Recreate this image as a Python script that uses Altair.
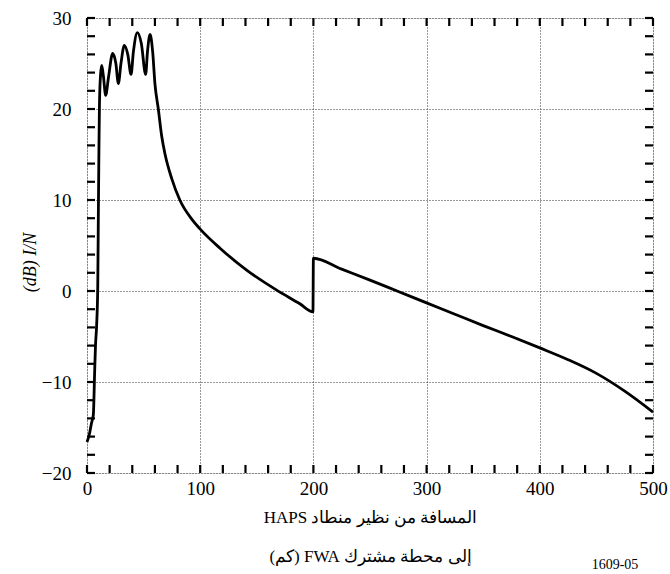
import altair as alt
import pandas as pd

# Curve: distance (km) vs I/N (dB)
dist = [0, 2, 4, 5.6, 6.8, 7.5, 8.5, 9.5, 10, 10.5, 11, 12, 13, 14.5, 16.5, 19, 22.7,
        25.5, 27.7, 30, 33, 36, 38.9, 41, 44.5, 48, 51.8, 53.5, 55.7, 58, 60, 63, 66,
        69, 75, 82, 92.5, 100, 117.5, 141, 167.6, 188, 199.6, 200, 225, 250, 275,
        300, 325, 350, 375, 400, 425, 450, 475, 500]
i_n = [-16.6, -15.8, -14.5, -13.6, -8.7, -6.0, -3.8, 0.5, 8.0, 15.0, 20.5, 23.8, 24.8,
       23.6, 21.5, 23.5, 26.1, 25.0, 22.8, 25.0, 27.0, 26.0, 23.8, 26.3, 28.4, 27.2,
       23.8, 26.4, 28.2, 26.3, 22.8, 20.0, 17.0, 15.0, 12.3, 10.0, 7.9, 6.8, 4.7,
       2.3, 0.1, -1.4, -2.3, 3.6, 2.4, 1.2, -0.05, -1.3, -2.55, -3.8, -5.0, -6.25,
       -7.55, -9.05, -11.0, -13.3]

x_major = [0, 100, 200, 300, 400, 500]
y_major = [-20, -10, 0, 10, 20, 30]
x_ticks = list(range(0, 501, 20))
y_ticks = list(range(-20, 31, 2))

x_title = ["\u202bالمسافة من نظير منطاد HAPS\u202c", "\u202bإلى محطة مشترك FWA (كم)\u202c"]
y_title = "(dB) I/N"
fig_id = "1609-05"

W, H = 566, 455
FONT = "Liberation Serif"

df = pd.DataFrame({"d": dist, "v": i_n})
xs = alt.Scale(domain=[0, 500], nice=False, zero=False)
ys = alt.Scale(domain=[-20, 30], nice=False, zero=False)

line = alt.Chart(df).mark_line(color="black", strokeWidth=2.8, interpolate="monotone").encode(
    x=alt.X("d:Q", scale=xs,
            axis=alt.Axis(values=x_major, title=x_title, grid=True, gridColor="#333",
                          gridDash=[1, 2], gridWidth=1, domain=False, ticks=False,
                          labelFont=FONT, labelFontSize=19, labelColor="black",
                          labelPadding=6, labelFlush=False,
                          titleFont=FONT, titleFontSize=17, titleFontWeight="normal",
                          titleColor="black", titleLineHeight=39, titleBaseline="top",
                          titleY=36, titleX=W / 2, titleAlign="center")),
    y=alt.Y("v:Q", scale=ys,
            axis=alt.Axis(values=y_major, title=y_title, grid=True, gridColor="#333",
                          gridDash=[1, 2], gridWidth=1, domain=False, ticks=False,
                          labelFont=FONT, labelFontSize=19, labelColor="black",
                          labelPadding=16, labelFlush=False,
                          titleFont=FONT, titleFontSize=18, titleFontStyle="italic",
                          titleFontWeight="normal", titleColor="black",
                          titleAngle=270, titleX=-57, titleY=244,
                          titleAlign="center", titleBaseline="middle")),
)

tx = pd.DataFrame({"tx": x_ticks})
ty = pd.DataFrame({"ty": y_ticks})
TL = 8
rule = dict(color="black", strokeWidth=2.2)
bottom = alt.Chart(tx).mark_rule(**rule).encode(
    x=alt.X("tx:Q", scale=xs), y=alt.value(H), y2=alt.value(H - TL))
top = alt.Chart(tx).mark_rule(**rule).encode(
    x=alt.X("tx:Q", scale=xs), y=alt.value(0), y2=alt.value(TL))
left = alt.Chart(ty).mark_rule(**rule).encode(
    y=alt.Y("ty:Q", scale=ys), x=alt.value(0), x2=alt.value(TL))
right = alt.Chart(ty).mark_rule(**rule).encode(
    y=alt.Y("ty:Q", scale=ys), x=alt.value(W), x2=alt.value(W - TL))

label = alt.Chart(pd.DataFrame({"t": [fig_id]})).mark_text(
    font=FONT, fontSize=14, color="black", align="center", baseline="middle").encode(
    x=alt.value(528), y=alt.value(547), text="t:N")

chart = alt.layer(line, bottom, top, left, right, label).properties(
    width=W, height=H,
    autosize=alt.AutoSizeParams(type="none"),
    padding={"left": 87, "top": 18, "right": 17, "bottom": 101},
).configure_view(stroke="black", strokeWidth=2.5).configure(background="white")

chart.save("out.html", embed_options={"renderer": "svg", "actions": False})
